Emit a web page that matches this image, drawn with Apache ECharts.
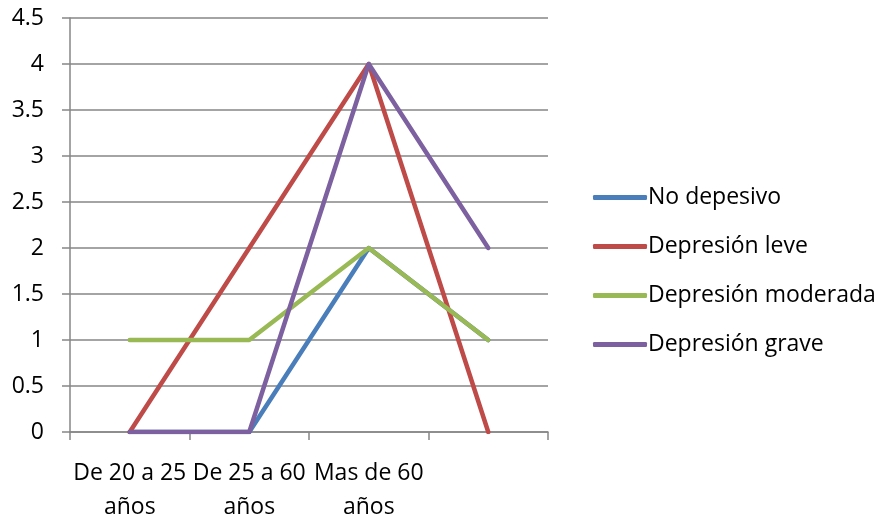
<!DOCTYPE html>
<html>
<head>
<meta charset="utf-8">
<script src="https://cdn.jsdelivr.net/npm/echarts@6/dist/echarts.min.js"></script>
<style>
html,body{margin:0;padding:0;background:#fff;}
#chart{width:890px;height:519px;}
</style>
</head>
<body>
<div id="chart"></div>
<script>
// Age groups on the x axis (last slot has no label)
const categories = ['De 20 a 25\naños', 'De 25 a 60\naños', 'Mas de 60\naños', ''];
const seriesNames = ['No depesivo', 'Depresión leve', 'Depresión moderada', 'Depresión grave'];
const noDepresivo = [0, 0, 2, 1];
const depresionLeve = [0, 2, 4, 0];
const depresionModerada = [1, 1, 2, 1];
const depresionGrave = [0, 0, 4, 2];
const colors = ['#4a7ebb', '#be4b48', '#98b954', '#7d60a0'];

const values = [noDepresivo, depresionLeve, depresionModerada, depresionGrave];
const font = 'Open Sans';
const fontSize = 23;

const chart = echarts.init(document.getElementById('chart'));
chart.setOption({
  animation: false,
  color: colors,
  textStyle: { fontFamily: font },
  grid: { left: 70, right: 342, top: 18, bottom: 87, containLabel: false, outerBoundsMode: 'none' },
  legend: {
    orient: 'vertical',
    left: 588,
    top: 181,
    itemWidth: 54,
    itemHeight: 5,
    itemGap: 26,
    icon: 'roundRect',
    textStyle: { fontFamily: font, fontSize: fontSize, color: '#000', padding: [0, 0, 0, -4] },
    data: seriesNames
  },
  xAxis: {
    type: 'category',
    data: categories,
    boundaryGap: true,
    axisLine: { lineStyle: { color: '#868686', width: 1.5 } },
    axisTick: { show: true, length: 8, alignWithLabel: false, lineStyle: { color: '#868686', width: 1.5 } },
    axisLabel: { color: '#000', fontSize: fontSize, fontFamily: font, lineHeight: 34, margin: 24, interval: 0 }
  },
  yAxis: {
    type: 'value',
    min: 0,
    max: 4.5,
    interval: 0.5,
    axisLine: { show: true, lineStyle: { color: '#868686', width: 1.5 } },
    axisTick: { show: true, length: 8, lineStyle: { color: '#868686', width: 1.5 } },
    splitLine: { show: true, lineStyle: { color: '#868686', width: 1.5 } },
    axisLabel: { color: '#000', fontSize: fontSize, fontFamily: font, margin: 26 }
  },
  series: values.map((v, i) => ({
    name: seriesNames[i],
    type: 'line',
    data: v,
    showSymbol: false,
    symbol: 'none',
    lineStyle: { width: 4.5, cap: 'round', join: 'round' },
    z: 2 + i
  }))
});
</script>
</body>
</html>
